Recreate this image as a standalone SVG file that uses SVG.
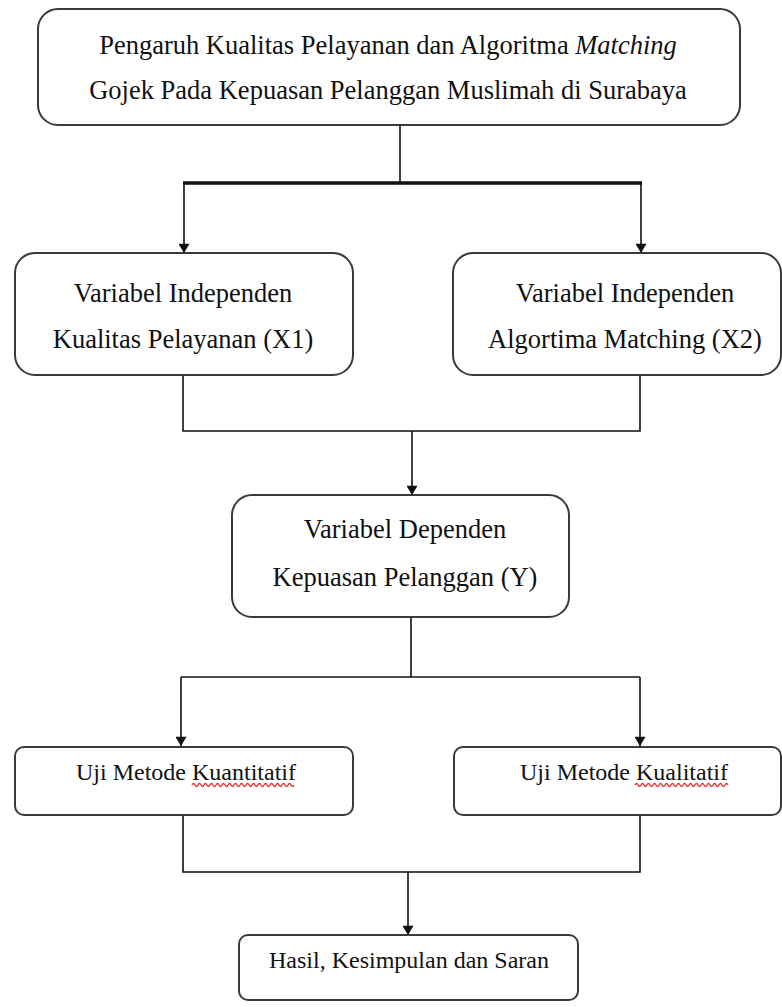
<svg xmlns="http://www.w3.org/2000/svg" width="782" height="1007" viewBox="0 0 782 1007">
<style>
.box{fill:#fff;stroke:#3a3a3a;stroke-width:2}
.t{font-family:"Liberation Serif","Times New Roman",serif;fill:#111;text-anchor:middle}
.big{font-size:26.5px}
.small{font-size:24px}
.ln{fill:none;stroke:#111;stroke-width:1.6}
.sq{fill:none;stroke:#d33;stroke-width:1.3}
</style>
<defs>
<marker id="ar" viewBox="0 0 10 12" refX="10" refY="6" markerWidth="12" markerHeight="11" markerUnits="userSpaceOnUse" orient="auto">
<path d="M0,0 L10,6 L0,12 z" fill="#111"/>
</marker>
</defs>
<rect width="782" height="1007" fill="#fff"/>
<g id="connectors">
<path class="ln" d="M400,125 V183"/>
<path class="ln" style="stroke-width:3.5" d="M183,183 H642"/>
<path class="ln" d="M184,183 V253" marker-end="url(#ar)"/>
<path class="ln" d="M641,183 V253" marker-end="url(#ar)"/>
<path class="ln" d="M183,375 V431 H640 V375"/>
<path class="ln" d="M412,431 V495" marker-end="url(#ar)"/>
<path class="ln" d="M411,617 V677"/>
<path class="ln" d="M181,677 H640"/>
<path class="ln" d="M181,677 V746" marker-end="url(#ar)"/>
<path class="ln" d="M640,677 V746" marker-end="url(#ar)"/>
<path class="ln" d="M183,815 V872 H640 V815"/>
<path class="ln" d="M408,872 V935" marker-end="url(#ar)"/>
</g>
<g id="n-title">
<rect class="box" x="38" y="9" width="702" height="116" rx="20"/>
<text class="t big" x="388" y="54">Pengaruh Kualitas Pelayanan dan Algoritma <tspan font-style="italic">Matching</tspan></text>
<text class="t big" x="388" y="99">Gojek Pada Kepuasan Pelanggan Muslimah di Surabaya</text>
</g>
<g id="n-x1">
<rect class="box" x="15" y="253" width="338" height="122" rx="20"/>
<text class="t big" x="183" y="302">Variabel Independen</text>
<text class="t big" x="183" y="348">Kualitas Pelayanan (X1)</text>
</g>
<g id="n-x2">
<rect class="box" x="453" y="253" width="328" height="122" rx="20"/>
<text class="t big" x="625" y="302">Variabel Independen</text>
<text class="t big" x="625" y="348">Algortima Matching (X2)</text>
</g>
<g id="n-y">
<rect class="box" x="232" y="495" width="337" height="122" rx="20"/>
<text class="t big" x="405" y="538">Variabel Dependen</text>
<text class="t big" x="405" y="586">Kepuasan Pelanggan (Y)</text>
</g>
<g id="n-kuan">
<rect class="box" x="15" y="747" width="338" height="68" rx="9"/>
<text class="t small" x="186" y="780">Uji Metode Kuantitatif</text>
<path class="sq" d="M192,785 q1.5,-3 3,0 t3,0 t3,0 t3,0 t3,0 t3,0 t3,0 t3,0 t3,0 t3,0 t3,0 t3,0 t3,0 t3,0 t3,0 t3,0 t3,0 t3,0 t3,0 t3,0 t3,0 t3,0 t3,0 t3,0 t3,0 t3,0 t3,0 t3,0 t3,0 t3,0 t3,0 t3,0 t3,0 t3,0"/>
</g>
<g id="n-kual">
<rect class="box" x="454" y="747" width="327" height="68" rx="9"/>
<text class="t small" x="624" y="780">Uji Metode Kualitatif</text>
<path class="sq" d="M635,785 q1.5,-3 3,0 t3,0 t3,0 t3,0 t3,0 t3,0 t3,0 t3,0 t3,0 t3,0 t3,0 t3,0 t3,0 t3,0 t3,0 t3,0 t3,0 t3,0 t3,0 t3,0 t3,0 t3,0 t3,0 t3,0 t3,0 t3,0 t3,0 t3,0 t3,0 t3,0 t3,0"/>
</g>
<g id="n-hasil">
<rect class="box" x="239" y="935" width="339" height="65" rx="9"/>
<text class="t small" x="409" y="968">Hasil, Kesimpulan dan Saran</text>
</g>
</svg>
